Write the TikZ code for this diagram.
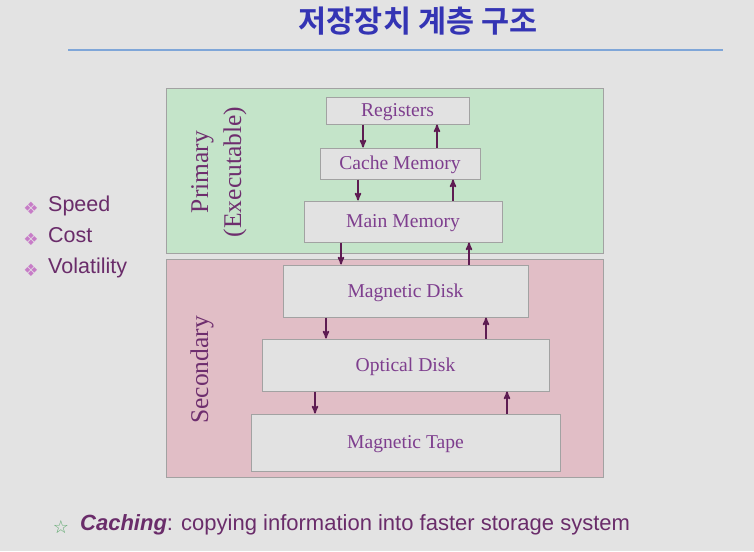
\documentclass[tikz,border=0pt]{standalone}
\usepackage{fontspec}
\setmainfont{Liberation Serif}
\setsansfont{Liberation Sans}
\newfontfamily\kofont{Noto Sans CJK KR}[BoldFont={Noto Sans CJK KR Bold}]
\newfontfamily\symfont{DejaVu Sans}
\usepackage{xcolor}
\usepackage{tikz}
\usetikzlibrary{arrows}

\definecolor{slidebg}{HTML}{E3E3E3}
\definecolor{titleblue}{HTML}{3434B4}
\definecolor{rulebl}{HTML}{7FA6D8}
\definecolor{primfill}{HTML}{C4E4C9}
\definecolor{secfill}{HTML}{E1BEC6}
\definecolor{edgegray}{HTML}{A2A2A2}
\definecolor{boxfill}{HTML}{E2E2E2}
\definecolor{boxtext}{HTML}{7E3E8E}
\definecolor{labeltext}{HTML}{6E2E6E}
\definecolor{arrowcol}{HTML}{5E1C52}
\definecolor{bulletpink}{HTML}{C77CC7}
\definecolor{bullettext}{HTML}{6A2C6A}
\definecolor{stargreen}{HTML}{5EA86E}

\begin{document}
\begin{tikzpicture}[->,>=stealth',x=1pt,y=-1pt]
            \tikzset{region/.style={draw=edgegray, line width=1pt, inner sep=0pt}}
            \tikzset{level/.style={draw=edgegray, fill=boxfill, line width=1pt, inner sep=0pt, text height=12.5pt, text depth=0pt, text=boxtext, font=\fontsize{19.6}{22}\selectfont}}
            \tikzset{side/.style={rotate=90, align=center, text=labeltext, font=\fontsize{25.5}{33}\selectfont}}
            \tikzset{link/.style={draw=arrowcol, line width=1.6pt}}
            \tikzset{point/.style={anchor=mid west, inner sep=0pt, text=bullettext, font=\sffamily\fontsize{21.5}{24}\selectfont}}
            \tikzset{bulletmark/.style={text=bulletpink, font=\symfont\fontsize{17}{17}\selectfont}}
            \fill[slidebg] (0,0) rectangle (754,551);
            \useasboundingbox (0,0) rectangle (754,551);
            % title
            \node[text=titleblue, font=\kofont\bfseries\fontsize{30.5}{33}\selectfont] (title) at (418,21) {저장장치 계층 구조};
            \coordinate (ruleL) at (68,50);
            \coordinate (ruleR) at (723,50);
            \draw[-, rulebl, line width=2.5pt] (ruleL) -- (ruleR);
            % the two regions
            \node[region, fill=primfill, minimum width=437pt, minimum height=165pt] (primary) at (384.5,170.5) {};
            \node[region, fill=secfill, minimum width=437pt, minimum height=218pt] (secondary) at (384.5,368) {};
            \node[side] (primlabel) at (219,172) {Primary\\(Executable)};
            \node[side] (seclabel) at (202,370) {Secondary};
            % levels
            \node[level, minimum width=143pt, minimum height=27pt] (reg) at (397.5,110.5) {Registers};
            \node[level, minimum width=160pt, minimum height=31pt] (cache) at (400,163.5) {Cache Memory};
            \node[level, minimum width=198pt, minimum height=41pt] (main) at (403,221.5) {Main Memory};
            \node[level, minimum width=245pt, minimum height=52pt] (mdisk) at (405.5,291) {Magnetic Disk};
            \node[level, minimum width=287pt, minimum height=52pt] (odisk) at (405.5,365) {Optical Disk};
            \node[level, minimum width=309pt, minimum height=57pt] (tape) at (405.5,442.5) {Magnetic Tape};
            % arrows
            \draw[link] ([xshift=-34.5pt]reg.south) -- ([xshift=-34.5pt]reg.south |- cache.north);
            \draw[link] ([xshift=39.5pt]reg.south |- cache.north) -- ([xshift=39.5pt]reg.south);
            \draw[link] ([xshift=-42pt]cache.south) -- ([xshift=-42pt]cache.south |- main.north);
            \draw[link] ([xshift=53pt]cache.south |- main.north) -- ([xshift=53pt]cache.south);
            \draw[link] ([xshift=-62pt]main.south) -- ([xshift=-62pt]main.south |- mdisk.north);
            \draw[link] ([xshift=66pt]main.south |- mdisk.north) -- ([xshift=66pt]main.south);
            \draw[link] ([xshift=-79.5pt]mdisk.south) -- ([xshift=-79.5pt]mdisk.south |- odisk.north);
            \draw[link] ([xshift=80.5pt]mdisk.south |- odisk.north) -- ([xshift=80.5pt]mdisk.south);
            \draw[link] ([xshift=-90.5pt]odisk.south) -- ([xshift=-90.5pt]odisk.south |- tape.north);
            \draw[link] ([xshift=101.5pt]odisk.south |- tape.north) -- ([xshift=101.5pt]odisk.south);
            % left points
            \node[bulletmark] (b1) at (31,208) {❖};
            \node[bulletmark] (b2) at (31,239) {❖};
            \node[bulletmark] (b3) at (31,270) {❖};
            \node[point] (speed) at (48,209) {Speed};
            \node[point] (cost) at (48,240) {Cost};
            \node[point] (volat) at (48,271) {Volatility};
            % caching note
            \node[text=stargreen, font=\symfont\fontsize{18}{18}\selectfont] (star) at (61,527) {☆};
            \node[point, font=\sffamily\fontsize{22}{24}\selectfont] (caching) at (80,528) {\textbf{\textit{Caching}}: copying information into faster storage system};
        \end{tikzpicture}
\end{document}
